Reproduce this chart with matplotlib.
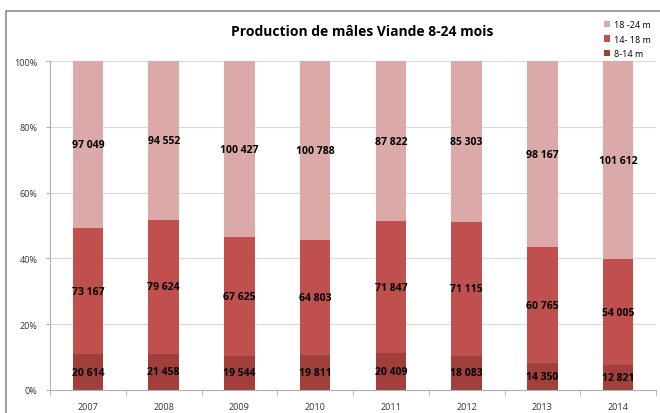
import matplotlib
matplotlib.use('Agg')
import matplotlib.pyplot as plt
import numpy as np
from matplotlib.patches import Rectangle

years = ['2007', '2008', '2009', '2010', '2011', '2012', '2013', '2014']
m8_14 = [20614, 21458, 19544, 19811, 20409, 18083, 14350, 12821]
m14_18 = [73167, 79624, 67625, 64803, 71847, 71115, 60765, 54005]
m18_24 = [97049, 94552, 100427, 100788, 87822, 85303, 98167, 101612]

series = [('8-14 m', m8_14, '#A13F3D'),
          ('14- 18 m', m14_18, '#C0504D'),
          ('18 -24 m', m18_24, '#DAA9A8')]

def fmt(v):
    return '{:,}'.format(v).replace(',', ' ')

plt.rcParams['font.family'] = ['Open Sans', 'DejaVu Sans']

fig = plt.figure(figsize=(6.6, 4.14), dpi=100)
fig.patches.append(Rectangle((6 / 660, -0.1), 1.2, (414 - 12) / 414 + 0.1,
                             transform=fig.transFigure, fill=False,
                             edgecolor='#8C8C8C', linewidth=1.2))
ax = fig.add_axes([50 / 660, 1 - 391 / 414, 606 / 660, 329 / 414])

x = np.arange(len(years))
totals = np.array(m8_14) + np.array(m14_18) + np.array(m18_24)
bottom = np.zeros(len(years))
handles = []
for name, vals, color in series:
    frac = np.array(vals) / totals
    h = ax.bar(x, frac, 0.4, bottom=bottom, color=color, label=name, zorder=2)
    handles.append(h)
    for xi, b, f, v in zip(x, bottom, frac, vals):
        ax.text(xi, b + f / 2, fmt(v), ha='center', va='center',
                fontsize=7.5, fontweight='bold', color='black', zorder=3)
    bottom = bottom + frac

ax.set_xlim(-0.5, len(years) - 0.5)
ax.set_ylim(0, 1)
ax.set_yticks(np.arange(0, 1.01, 0.2))
ax.set_yticklabels(['{}%'.format(int(round(t * 100))) for t in np.arange(0, 1.01, 0.2)])
ax.set_xticks(x)
ax.set_xticklabels(years)
ax.set_xticks(np.arange(-0.5, len(years), 1), minor=True)
ax.tick_params(axis='x', which='major', length=0, labelsize=6.5, pad=9, colors='#333333')
ax.tick_params(axis='x', which='minor', length=4, color='#B0B0B0')
ax.tick_params(axis='y', length=3, color='#B0B0B0', labelsize=6.5, pad=6, labelcolor='#333333')
ax.grid(axis='y', color='#D9D9D9', linewidth=0.8, zorder=0)
for s in ['top', 'right']:
    ax.spines[s].set_visible(False)
for s in ['left', 'bottom']:
    ax.spines[s].set_color('#B0B0B0')

fig.text(362 / 660, 1 - 32 / 414, 'Production de mâles Viande 8-24 mois',
         ha='center', va='center', fontsize=10, fontweight='bold')

fig.legend(handles[::-1], [s[0] for s in series][::-1], loc='upper left',
           bbox_to_anchor=(596 / 660, 1 - 13 / 414), frameon=False,
           fontsize=6.5, handlelength=0.7, handleheight=0.7,
           handletextpad=0.4, labelspacing=0.6)

fig.savefig('out.png', dpi=100)
